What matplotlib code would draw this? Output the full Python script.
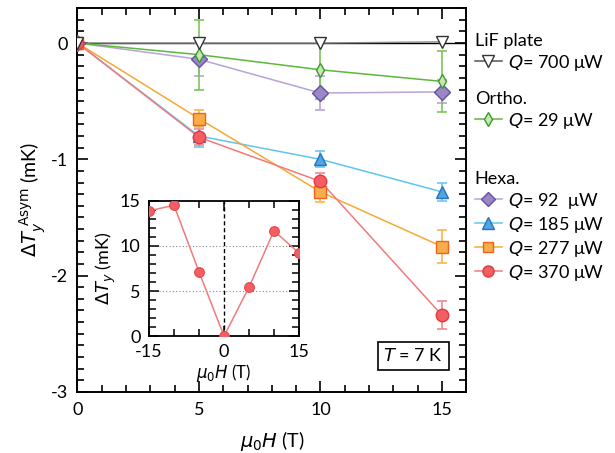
import numpy as np
import matplotlib.pyplot as plt
from matplotlib.lines import Line2D
from matplotlib.ticker import MultipleLocator

plt.rcParams['font.family'] = ['Lato', 'DejaVu Sans']
plt.rcParams['mathtext.fontset'] = 'dejavusans'
plt.rcParams['axes.unicode_minus'] = False

# main panel data (mu0H in T, Delta T_y^Asym in mK)
field = [0, 5, 10, 15]
lif_700 = [0, 0.0, 0.0, 0.01]
ortho_29 = [0, -0.10, -0.23, -0.33]
ortho_29_err = [0, 0.30, 0.25, 0.26]
hexa_92 = [0, -0.14, -0.43, -0.42]
hexa_92_err = [0, 0.14, 0.15, 0.10]
hexa_185 = [0, -0.80, -1.00, -1.28]
hexa_185_err = [0, 0.09, 0.07, 0.08]
hexa_277 = [0, -0.65, -1.28, -1.75]
hexa_277_err = [0, 0.07, 0.09, 0.145]
hexa_370 = [0, -0.81, -1.19, -2.34]
hexa_370_err = [0, 0.07, 0.075, 0.12]

# inset data
inset_field = [-15, -10, -5, 0, 5, 10, 15]
inset_dty = [13.9, 14.5, 7.13, 0, 5.43, 11.67, 9.2]

fig = plt.figure(figsize=(6.15, 4.53), dpi=100)
ax = fig.add_axes([0.126, 0.135, 0.632, 0.847])

ax.axhline(0, color='black', lw=1.0, zorder=1)

# (values, errors, marker, face, edge, line, errcolor, size)
series = [
    (hexa_92, hexa_92_err, 'D', '#9c87c6', '#6650a0', '#b7a4d8', '#b7a4d8', 8),
    (ortho_29, ortho_29_err, 'd', '#c8e6b4', '#3d9a2a', '#5cb83a', '#7cc65a', 7),
    (hexa_185, hexa_185_err, '^', '#4da6e0', '#2f6fbf', '#5ec6ee', '#6cc8f0', 9),
    (hexa_277, hexa_277_err, 's', '#f6ad4a', '#f2621c', '#f7a833', '#f7b64f', 8),
    (hexa_370, hexa_370_err, 'o', '#f25e62', '#e23a42', '#f27a7c', '#f28a8c', 9),
]
for vals, errs, mk, fc, ec, lc, erc, ms in series:
    ax.errorbar(field, vals, yerr=errs, fmt='none', ecolor=erc, elinewidth=1.2,
                capsize=3.5, capthick=1.2, zorder=2)
    ax.plot(field, vals, color=lc, lw=1.1, zorder=3)
    ax.plot(field, vals, ls='none', marker=mk, ms=ms, mfc=fc, mec=ec, mew=1.0, zorder=4)

ax.plot(field, lif_700, color='#888888', lw=1.0, zorder=3)
ax.plot(field, lif_700, ls='none', marker='v', ms=9, mfc='white', mec='#333333', mew=1.0, zorder=5)

ax.set_xlim(0, 16)
ax.set_ylim(-3, 0.3)
ax.xaxis.set_major_locator(MultipleLocator(5))
ax.xaxis.set_minor_locator(MultipleLocator(1))
ax.yaxis.set_major_locator(MultipleLocator(1))
ax.yaxis.set_minor_locator(MultipleLocator(0.1))
ax.tick_params(which='both', direction='in', top=True, right=True, labelsize=13, width=1.2)
ax.tick_params(which='major', length=8, pad=7)
ax.tick_params(which='minor', length=5)
for s in ax.spines.values():
    s.set_linewidth(1.4)
ax.set_xlabel(r'$\mu_0 H$ (T)', fontsize=14, labelpad=8)
ax.set_ylabel(r'$\Delta T_y^{\rm \ Asym}$ (mK)', fontsize=14, labelpad=2)

ax.text(0.864, 0.094, r'$T$ = 7 K', transform=ax.transAxes, fontsize=13,
        ha='center', va='center',
        bbox=dict(boxstyle='square,pad=0.3', fc='white', ec='black', lw=1.2))

# legends
def handle(mk, fc, ec, lc, ms):
    return Line2D([], [], color=lc, lw=1.1, marker=mk, ms=ms, mfc=fc, mec=ec, mew=1.0)

leg_kw = dict(frameon=False, fontsize=13, title_fontsize=13, alignment='left',
              handlelength=1.5, handletextpad=0.35, labelspacing=0.22,
              borderpad=0, borderaxespad=0, loc='upper left')
l1 = fig.legend([handle('v', 'white', '#333333', '#555555', 8)], [r'$Q$= 700 μW'],
                title='LiF plate', bbox_to_anchor=(0.772, 0.928), **leg_kw)
l2 = fig.legend([handle('d', '#c8e6b4', '#3d9a2a', '#5cb83a', 7)], [r'$Q$= 29 μW'],
                title='Ortho.', bbox_to_anchor=(0.772, 0.800), **leg_kw)
hx = [handle('D', '#9c87c6', '#6650a0', '#b7a4d8', 7),
      handle('^', '#4da6e0', '#2f6fbf', '#5ec6ee', 8),
      handle('s', '#f6ad4a', '#f2621c', '#f7a833', 7),
      handle('o', '#f25e62', '#e23a42', '#f27a7c', 8)]
l3 = fig.legend(hx, [r'$Q$= 92  μW', r'$Q$= 185 μW', r'$Q$= 277 μW', r'$Q$= 370 μW'],
                title='Hexa.', bbox_to_anchor=(0.772, 0.623), **leg_kw)

# inset
ins = fig.add_axes([0.2423, 0.258, 0.2439, 0.2987])
ins.axvline(0, color='black', lw=1.0, ls=(0, (3, 2)), zorder=1)
for yv in [5, 10]:
    ins.axhline(yv, color='#888888', lw=0.8, ls=(0, (1, 2)), zorder=1)
ins.plot(inset_field, inset_dty, color='#f27a7c', lw=1.1, marker='o', ms=7,
         mfc='#f25e62', mec='#e5484e', mew=0.8, zorder=3)
ins.set_xlim(-15, 15)
ins.set_ylim(0, 15)
ins.set_xticks([-15, 0, 15])
ins.xaxis.set_minor_locator(MultipleLocator(5))
ins.yaxis.set_major_locator(MultipleLocator(5))
ins.yaxis.set_minor_locator(MultipleLocator(1))
ins.tick_params(which='both', direction='in', top=True, right=True, labelsize=13, width=1.1)
ins.tick_params(which='major', length=7, pad=6)
ins.tick_params(which='minor', length=5)
for s in ins.spines.values():
    s.set_linewidth(1.3)
ins.set_xlabel(r'$\mu_0 H$ (T)', fontsize=12, labelpad=1)
ins.set_ylabel(r'$\Delta T_y$ (mK)', fontsize=13, labelpad=1)

fig.savefig('out.png', dpi=100)
